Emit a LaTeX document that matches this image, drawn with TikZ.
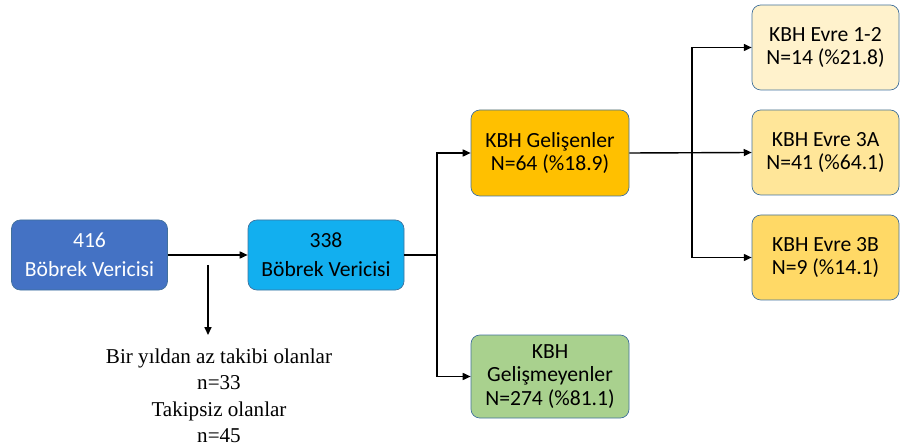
\documentclass[tikz,border=0pt]{standalone}
\usepackage{fontspec}
\setmainfont{Liberation Serif}
\newfontfamily\calibri{Carlito}
\usepackage{xcolor}
\usetikzlibrary{arrows.meta, calc, positioning}
\definecolor{donorblue}{HTML}{4472C4}
\definecolor{donorcyan}{HTML}{12AFEF}
\definecolor{ckdorange}{HTML}{FFC000}
\definecolor{ckdgreen}{HTML}{A9D18E}
\definecolor{stageone}{HTML}{FFF2CC}
\definecolor{stagetwo}{HTML}{FFE699}
\definecolor{stagethree}{HTML}{FFD966}
\definecolor{edgeblue}{HTML}{41719C}

\begin{document}
\begin{tikzpicture}[
      font=\calibri\fontsize{12.3}{13.6}\selectfont,
      box/.style={draw=edgeblue, rounded corners=5pt, align=center,
                  inner sep=3pt, minimum width=3.12cm, minimum height=1.4cm},
      stage/.style={box, minimum width=2.94cm, minimum height=1.7cm},
      arr/.style={-{Triangle[length=4.5pt, width=4pt]}, thick, black},
      note/.style={font=\fontsize{12}{14.8}\selectfont, align=center, inner sep=0pt}]
    \useasboundingbox (0,0) rectangle (18.02,-8.9);
    \node[box, fill=donorblue, text=white, font=\calibri\fontsize{12.3}{16.4}\selectfont] (all) at (1.79,-5.1) {416\\Böbrek Vericisi};
    \node[box, fill=donorcyan, font=\calibri\fontsize{12.3}{16.4}\selectfont] (kept) at (6.52,-5.1) {338\\Böbrek Vericisi};
    \node[box, fill=ckdorange, minimum width=3.16cm, minimum height=1.72cm] (ckd) at (11.0,-3.06) {KBH Gelişenler\\N=64 (\%18.9)};
    \node[box, fill=ckdgreen, minimum width=3.16cm, minimum height=1.66cm] (nockd) at (11.0,-7.53) {KBH\\Gelişmeyenler\\N=274 (\%81.1)};
    \node[stage, fill=stageone] (evre12) at (16.51,-0.95) {KBH Evre 1-2\\N=14 (\%21.8)};
    \node[stage, fill=stagetwo] (evre3a) at (16.51,-3.05) {KBH Evre 3A\\N=41 (\%64.1)};
    \node[stage, fill=stagethree] (evre3b) at (16.51,-5.15) {KBH Evre 3B\\N=9 (\%14.1)};
    \node[note, anchor=north] (lost) at (4.38,-6.98) {Bir yıldan az takibi olanlar\\n=33\\Takipsiz olanlar\\n=45};
    % kollar
    \coordinate (drop) at (4.16,-5.3);
    \coordinate (fork1) at (8.74,-5.1);
    \coordinate (fork2) at (13.84,-3.06);
    \draw[arr] (all) -- (kept);
    \draw[arr] (drop) -- (4.16,-6.7);
    \draw[arr] (kept.east) -- (fork1) |- (ckd.west);
    \draw[arr] (fork1) |- (nockd.west);
    \draw[arr] (ckd.east) -- (evre3a.west);
    \draw[arr] (fork2) |- (evre12.west);
    \draw[arr] (fork2) |- (evre3b.west);
\end{tikzpicture}
\end{document}
